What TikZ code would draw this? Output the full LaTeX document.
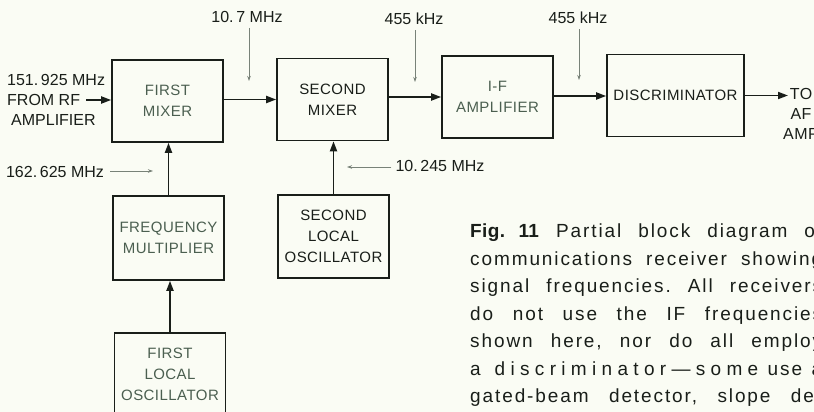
\documentclass[tikz,border=0pt]{standalone}
\usepackage{fontspec}
\setmainfont{Liberation Sans}
\newfontfamily\capsfont[LetterSpace=3]{Liberation Sans}
\newfontfamily\notefont[LetterSpace=10]{Liberation Sans}
\usepackage{xcolor}
\definecolor{rxpaper}{RGB}{250,252,244}
\definecolor{rxink}{RGB}{25,30,25}
\definecolor{rxgreen}{RGB}{75,95,80}
\definecolor{rxgray}{RGB}{120,130,120}
\usetikzlibrary{arrows.meta,positioning,calc}
\frenchspacing

\begin{document}
\begin{tikzpicture}[x=1pt, y=-1pt,
  stagebox/.style={
    rectangle, draw=rxink, line width=1.6pt,
    minimum width=111pt, minimum height=82pt,
    inner sep=0pt, align=center,
    font=\capsfont\fontsize{15}{21}\selectfont,
    text=rxink
  },
  freqlbl/.style={font=\fontsize{16}{20}\selectfont, text=rxink, inner sep=1pt},
  feed/.style={-{Triangle[length=10pt,width=7pt]}, line width=1.8pt, draw=rxink},
  ptr/.style={-{Stealth[length=5pt,width=3.5pt]}, line width=0.8pt, draw=rxgray}
]
\fill[rxpaper] (0,0) rectangle (814,412);
\useasboundingbox (0,0) rectangle (814,412);
\clip (0,0) rectangle (814,412);

% signal chain
\node[stagebox, text=rxgreen]            (mixA)  at (167.5,101)  {FIRST\\MIXER};
\node[stagebox]                          (mixB)  at (332.5,99.5) {SECOND\\MIXER};
\node[stagebox, text=rxgreen]            (ifamp) at (497.5,97)   {I-F\\AMPLIFIER};
\node[stagebox, minimum width=137pt]     (disc)  at (675.5,95.5) {DISCRIMINATOR};

% oscillators
\node[stagebox, text=rxgreen, minimum height=84pt] (fmult) at (168.5,238)   {FREQUENCY\\MULTIPLIER};
\node[stagebox, minimum height=83pt]               (loB)   at (333.5,236.5) {SECOND\\LOCAL\\OSCILLATOR};
\node[stagebox, text=rxgreen, minimum height=83pt] (loA)   at (170,374.5)   {FIRST\\LOCAL\\OSCILLATOR};

% input and output
\node[freqlbl, align=left, anchor=west] (rfsrc) at (6,100) {151.\,925 MHz\\FROM RF\\\hspace{4pt}AMPLIFIER};
\coordinate (rfin) at (86,100);
\node[freqlbl, align=center, font=\capsfont\fontsize{16}{20}\selectfont] (afout) at (801,114) {TO\\AF\\AMP};
\coordinate (afin) at (788,95.5);

\draw[feed] (rfin) -- (rfin -| mixA.west);
\draw[feed] (mixA.east |- 0,99.5) -- (mixB.west |- 0,99.5);
\draw[feed] (mixB.east |- 0,97) -- (ifamp.west |- 0,97);
\draw[feed] (ifamp.east |- 0,96) -- (disc.west |- 0,96);
\draw[feed] (disc.east |- afin) -- (afin);
\draw[feed] (fmult.north) -- (fmult.north |- mixA.south);
\draw[feed] (loA.north) -- (loA.north |- fmult.south);
\draw[feed] (loB.north) -- (loB.north |- mixB.south);

% frequency call-outs
\node[freqlbl] (f107)  at (247,17)  {10.\,7 MHz};
\node[freqlbl] (f455a) at (414,19)  {455 kHz};
\node[freqlbl] (f455b) at (578,18)  {455 kHz};
\node[freqlbl] (f162)  at (55,172)  {162.\,625 MHz};
\node[freqlbl] (f10245) at (440,166) {10.\,245 MHz};
\coordinate (t107)   at (249,81);
\coordinate (t455a)  at (415,82);
\coordinate (t455b)  at (579,80);
\coordinate (t162)   at (153,171);
\coordinate (t10245) at (347,167);

\draw[ptr, shorten <=4pt] (f107.south -| t107) -- (t107);
\draw[ptr, shorten <=4pt] (f455a.south -| t455a) -- (t455a);
\draw[ptr, shorten <=4pt] (f455b.south -| t455b) -- (t455b);
\draw[ptr, shorten <=5pt] (f162.east |- t162) -- (t162);
\draw[ptr, shorten <=3pt] (f10245.west |- t10245) -- (t10245);

% caption
\node[anchor=north west, inner sep=0pt, align=justify, text width=352pt,
      font=\notefont\fontsize{19}{27.5}\selectfont, text=rxink] (note) at (470,224) {%
{\addfontfeature{LetterSpace=2}\bfseries Fig. 11} Partial block diagram of\linebreak
communications receiver showing\linebreak
signal frequencies. All receivers\linebreak
do not use the IF frequencies\linebreak
shown here, nor do all employ\linebreak
{\addfontfeature{LetterSpace=28}a discriminator\textemdash some} use a\linebreak
gated-beam detector, slope de-\linebreak};
\end{tikzpicture}
\end{document}
